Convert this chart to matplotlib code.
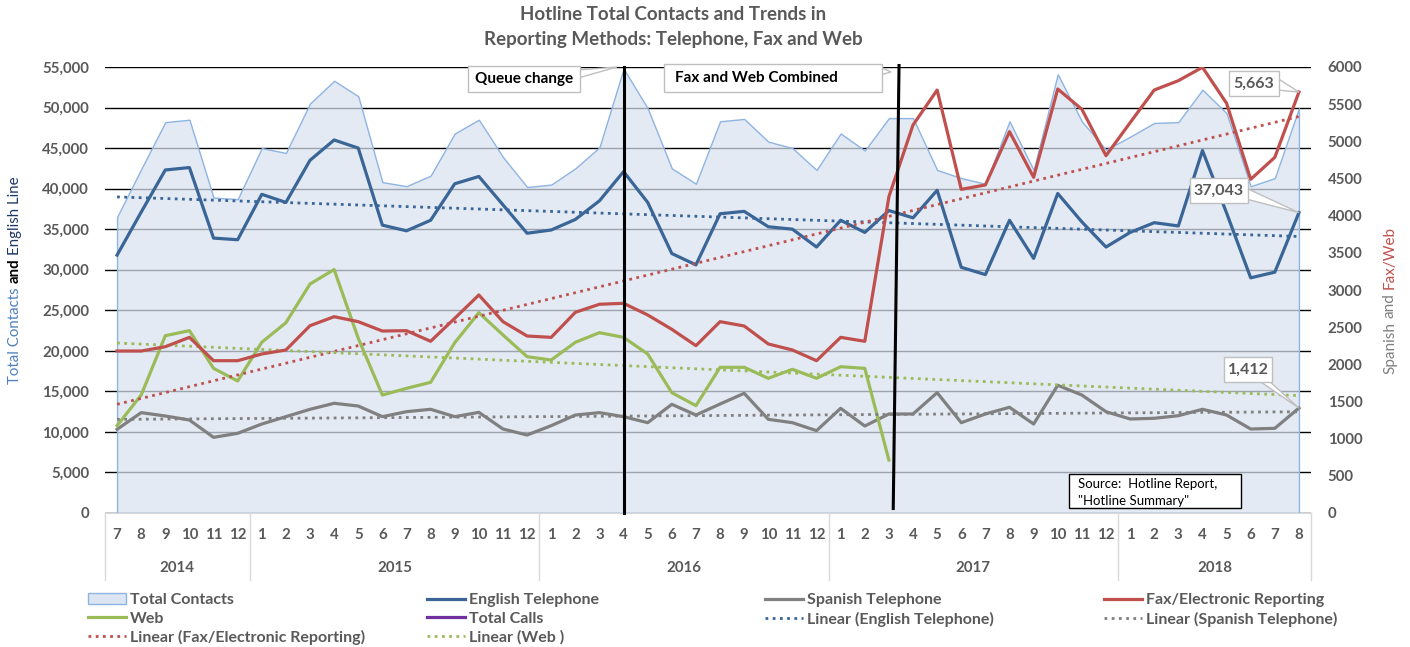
import numpy as np
import matplotlib
matplotlib.use("Agg")
import matplotlib.pyplot as plt
from matplotlib.patches import Rectangle, Polygon, Patch
from matplotlib.lines import Line2D
from matplotlib.transforms import IdentityTransform, blended_transform_factory

plt.rcParams['font.family'] = ['Lato', 'DejaVu Sans']

# ---------------- data ----------------
years = [2014, 2015, 2016, 2017, 2018]
months_per_year = [6, 12, 12, 12, 8]
months = [7, 8, 9, 10, 11, 12] + list(range(1, 13)) * 3 + [1, 2, 3, 4, 5, 6, 7, 8]

total_contacts = [36500, 42400, 48200, 48500, 38900, 38700,
                  45000, 44400, 50500, 53300, 51400, 40800, 40300, 41600, 46800, 48500, 43900, 40200,
                  40500, 42500, 45100, 54800, 49900, 42500, 40600, 48300, 48600, 45800, 45000, 42300,
                  46800, 44700, 48700, 48700, 42300, 41300, 40600, 48300, 42300, 54100, 48300, 44800,
                  46400, 48100, 48200, 52200, 49300, 40300, 41300, 49900]
english_tel = [31800, 37100, 42300, 42600, 33900, 33700,
               39300, 38300, 43500, 46000, 45000, 35500, 34800, 36100, 40600, 41500, 38000, 34500,
               34900, 36200, 38500, 42100, 38300, 32000, 30600, 36900, 37200, 35300, 35000, 32800,
               36100, 34600, 37300, 36400, 39800, 30300, 29400, 36100, 31400, 39400, 35900, 32800,
               34600, 35800, 35400, 44700, 37000, 29000, 29700, 37043]
spanish_tel = [1126, 1350, 1305, 1251, 1018, 1072,
               1197, 1296, 1395, 1476, 1439, 1296, 1363, 1395, 1296, 1354, 1130, 1049,
               1175, 1318, 1350, 1296, 1215, 1462, 1318, 1466, 1610, 1260, 1215, 1108,
               1408, 1170, 1332, 1332, 1619, 1215, 1332, 1422, 1197, 1718, 1587, 1363,
               1265, 1274, 1309, 1395, 1318, 1130, 1139, 1412]
fax_electronic = [2179, 2179, 2237, 2363, 2049, 2049,
                  2139, 2193, 2520, 2641, 2574, 2448, 2453, 2310, 2619, 2933, 2574, 2381,
                  2363, 2700, 2808, 2821, 2664, 2471, 2251, 2574, 2516, 2274, 2193, 2049,
                  2363, 2310, 4255, 5220, 5690, 4354, 4413, 5130, 4516, 5704, 5431, 4807,
                  5251, 5690, 5816, 5996, 5512, 4489, 4785, 5663]
web = [1175, 1587, 2385, 2453, 1946, 1776,
       2296, 2560, 3081, 3275, 2350, 1587, 1677, 1758, 2291, 2695, 2395, 2103,
       2058, 2296, 2426, 2363, 2139, 1619, 1444, 1960, 1960, 1812, 1933, 1812,
       1968, 1946, 713] + [np.nan] * 17

left_ticks = list(range(0, 55001, 5000))
right_ticks = list(range(0, 6001, 500))

queue_change_idx = 21      # April 2016
combined_idx_top, combined_idx_bot = 32.42, 32.18  # March 2017 marker line

# ---------------- style ----------------
C_EN = '#3a6597'
C_SP = '#808080'
C_FAX = '#c0504d'
C_WEB = '#9bbb59'
C_TOT_EDGE = '#8eb4e3'
C_TOT_FACE = (0.851, 0.890, 0.941, 0.72)
C_TXT = '#595959'
DOT = (0, (1, 1.6))

W, H = 1410, 647
fig = plt.figure(figsize=(W / 100, H / 100), dpi=100)
L, R, T, B = 105, 1311, 67, 513
ax = fig.add_axes([L / W, 1 - B / H, (R - L) / W, (B - T) / H])

x = np.arange(len(months))
ax.set_xlim(-0.5, len(months) - 0.5)
ax.set_ylim(0, 55000)

ax.set_axisbelow(True)
ax.yaxis.grid(True, color='black', lw=1)
ax.fill_between(x, total_contacts, 0, facecolor=C_TOT_FACE, edgecolor=C_TOT_EDGE, lw=1, zorder=1)
ax.plot(x, english_tel, color=C_EN, lw=2.3, zorder=3)


def trend(xv, yv):
    yv = np.asarray(yv, dtype=float)
    m = ~np.isnan(yv)
    p = np.polyfit(xv[m], yv[m], 1)
    return np.polyval(p, xv)


ax.plot(x, trend(x, english_tel), color=C_EN, lw=2, ls=DOT, zorder=3)

for s in ax.spines.values():
    s.set_visible(False)
ax.spines['bottom'].set_visible(True)
ax.spines['bottom'].set_color('#d9d9d9')

ax.set_yticks(left_ticks)
ax.set_yticklabels([f'{v:,}' for v in left_ticks], fontweight='bold')
ax.tick_params(axis='y', length=0, pad=11.5, labelsize=10.8, labelcolor=C_TXT)
ax.set_xticks(x)
ax.set_xticklabels([str(m) for m in months], fontweight='bold')
ax.tick_params(axis='x', length=0, pad=10.5, labelsize=10.8, labelcolor=C_TXT)

# year labels and separators
bt = blended_transform_factory(ax.transData, ax.transAxes)
yr_y = -(568 - 513) / (B - T)
sep_y = -(580 - 513) / (B - T)
bounds = [-0.5]
pos = 0
for yr, c in zip(years, months_per_year):
    ax.text(pos + (c - 1) / 2, yr_y, str(yr), transform=bt, ha='center', va='center',
            fontsize=10.8, fontweight='bold', color=C_TXT)
    pos += c
    bounds.append(pos - 0.5)
for b in bounds:
    ax.plot([b, b], [0, sep_y], transform=bt, color='#d9d9d9', lw=1, clip_on=False)

# secondary axis
ax2 = ax.twinx()
ax2.set_ylim(0, 6000)
for s in ax2.spines.values():
    s.set_visible(False)
ax2.set_yticks(right_ticks)
ax2.set_yticklabels([str(v) for v in right_ticks], fontweight='bold')
ax2.tick_params(axis='y', length=0, pad=12, labelsize=10.8, labelcolor=C_TXT)

ax2.plot(x, spanish_tel, color=C_SP, lw=2.3, zorder=3)
ax2.plot(x, web, color=C_WEB, lw=2.3, zorder=3)
ax2.plot(x, fax_electronic, color=C_FAX, lw=2.3, zorder=4)
ax2.plot(x, trend(x, fax_electronic), color=C_FAX, lw=2, ls=DOT, zorder=3)
ax2.plot(x, trend(x, spanish_tel), color=C_SP, lw=2, ls=DOT, zorder=3)
ax2.plot(x, trend(x, web), color=C_WEB, lw=2, ls=DOT, zorder=3)

# event lines
ax2.plot([queue_change_idx, queue_change_idx], [0, 6000], color='black', lw=2.2, zorder=6, clip_on=False)
ax2.plot([combined_idx_top, combined_idx_bot], [6020, 60], color='black', lw=2.2, zorder=6, clip_on=False)

ID = IdentityTransform()


def callout(box, text, base, tip, tx=None, ha='center', size=11, color=C_TXT, ec='#bfbfbf'):
    x0, y0, x1, y1 = box
    if base is not None:
        tri = Polygon([(base[0][0], H - base[0][1]), (base[1][0], H - base[1][1]), tip],
                      closed=True, transform=ID, fc='white', ec=ec, lw=1, zorder=20)
        fig.add_artist(tri)
    rect = Rectangle((x0, H - y1), x1 - x0, y1 - y0, transform=ID, fc='white', ec=ec, lw=1, zorder=21)
    fig.add_artist(rect)
    if tx is None:
        tx = (x0 + x1) / 2
    fig.text(tx, H - (y0 + y1) / 2, text, transform=ID, ha=ha, va='center', fontsize=size,
             fontweight='bold', color=color, zorder=22)


fig.canvas.draw()
tip_fax = ax2.transData.transform((x[-1], fax_electronic[-1]))
tip_en = ax.transData.transform((x[-1], english_tel[-1]))
tip_sp = ax2.transData.transform((x[-1], spanish_tel[-1]))

callout((1229, 71, 1279, 96), f'{fax_electronic[-1]:,}', [(1277, 78), (1277, 90)], tip_fax, size=11.5)
callout((1190, 178, 1248, 203), f'{english_tel[-1]:,}', [(1246, 188), (1246, 199)], tip_en, size=11.5)
callout((1224, 357, 1272, 382), f'{spanish_tel[-1]:,}', [(1258, 380), (1268, 380)], tip_sp, size=11.5)
callout((468, 66, 580, 92), 'Queue change', [(578, 70), (578, 78)], (617, H - 67), size=11, color='black')
callout((664, 64, 882, 92), 'Fax and Web Combined', [(880, 67), (880, 75)], (891, H - 72),
        tx=675, ha='left', size=11, color='black')

# source box
fig.add_artist(Rectangle((1069, H - 508), 172, 34, transform=ID, fc='white', ec='black', lw=1, zorder=21))
fig.text(1078, H - 484, 'Source:  Hotline Report,', transform=ID, ha='left', va='center',
         fontsize=9.5, color='black', zorder=22)
fig.text(1078, H - 501, '"Hotline Summary"', transform=ID, ha='left', va='center',
         fontsize=9.5, color='black', zorder=22)

# title
fig.text(673, H - 15, 'Hotline Total Contacts and Trends in', transform=ID, ha='center', va='center',
         fontsize=13.5, fontweight='bold', color=C_TXT)
fig.text(673, H - 39, 'Reporting Methods: Telephone, Fax and Web', transform=ID, ha='center', va='center',
         fontsize=13.5, fontweight='bold', color=C_TXT)

# multicolour axis titles
renderer = fig.canvas.get_renderer()


def vtext(parts, xc, yc, size):
    objs, hs = [], []
    for s, c, w in parts:
        t = fig.text(xc, 0, s, rotation=90, color=c, fontweight=w, fontsize=size,
                     ha='center', va='bottom', transform=ID)
        hs.append(t.get_window_extent(renderer).height)
        objs.append(t)
    gap = size * 1.389 * 0.25
    tot = sum(hs) + gap * (len(parts) - 1)
    yy = yc - tot / 2
    for t, h in zip(objs, hs):
        t.set_y(yy)
        yy += h + gap


vtext([('Total Contacts', '#4f81bd', 'normal'), ('and', 'black', 'bold'),
       ('English Line', '#1f3864', 'normal')], 15, H - 280, 10.8)
vtext([('Spanish', '#7f7f7f', 'normal'), ('and', '#7f7f7f', 'normal'),
       ('Fax/Web', C_FAX, 'normal')], 1390, H - 300, 11)

# legend (4 columns, row-major order as in the reference)
h_tot = Patch(facecolor='#dce6f2', edgecolor=C_TOT_EDGE, lw=1)
h_en = Line2D([], [], color=C_EN, lw=2.3)
h_sp = Line2D([], [], color=C_SP, lw=2.3)
h_fax = Line2D([], [], color=C_FAX, lw=2.3)
h_web = Line2D([], [], color=C_WEB, lw=2.3)
h_calls = Line2D([], [], color='#7030a0', lw=2.3)
h_len = Line2D([], [], color=C_EN, lw=2, ls=DOT)
h_lsp = Line2D([], [], color=C_SP, lw=2, ls=DOT)
h_lfax = Line2D([], [], color=C_FAX, lw=2, ls=DOT)
h_lweb = Line2D([], [], color=C_WEB, lw=2, ls=DOT)

columns = [
    (88, [(h_tot, 'Total Contacts'), (h_web, 'Web'), (h_lfax, 'Linear (Fax/Electronic Reporting)')]),
    (427, [(h_en, 'English Telephone'), (h_calls, 'Total Calls'), (h_lweb, 'Linear (Web )')]),
    (765, [(h_sp, 'Spanish Telephone'), (h_len, 'Linear (English Telephone)')]),
    (1104, [(h_fax, 'Fax/Electronic Reporting'), (h_lsp, 'Linear (Spanish Telephone)')]),
]
for cx, items in columns:
    leg = fig.legend([i[0] for i in items], [i[1] for i in items], loc='upper left',
                     bbox_to_anchor=(cx / W, 1 - 593 / H), frameon=False, borderpad=0,
                     borderaxespad=0, handlelength=2.35, handletextpad=0.28, labelspacing=0.27,
                     prop={'size': 11.5, 'weight': 'bold'})
    for t in leg.get_texts():
        t.set_color(C_TXT)

fig.savefig('out.png', dpi=100)
